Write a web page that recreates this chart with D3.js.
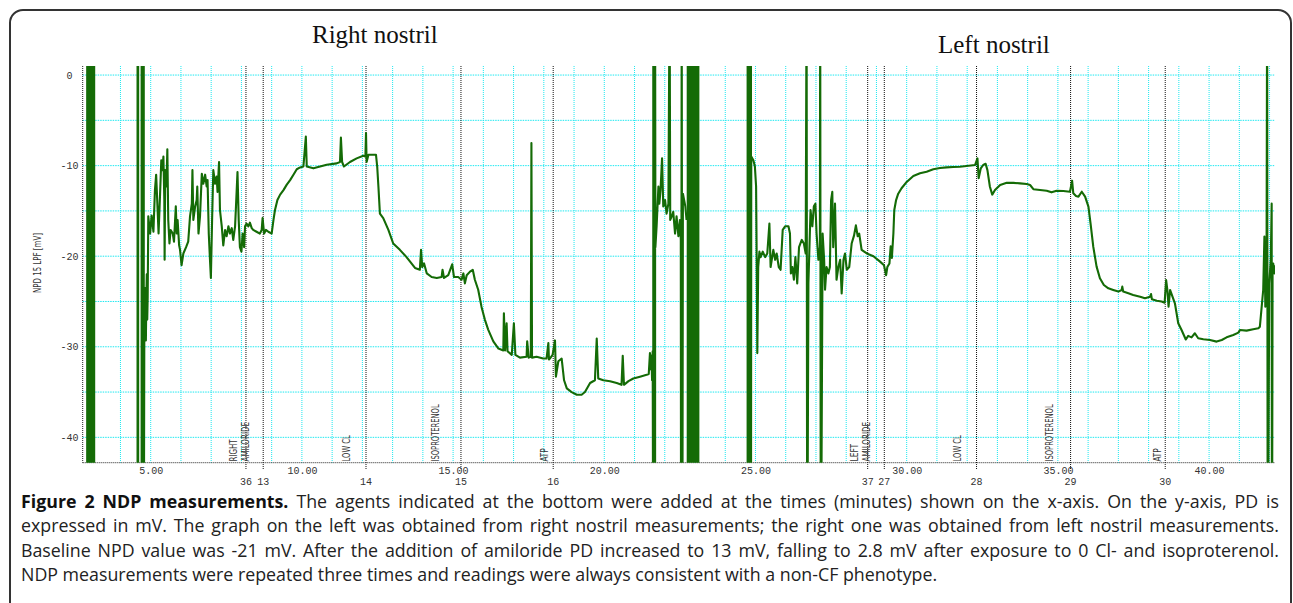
<!DOCTYPE html>
<html>
<head>
<meta charset="utf-8">
<script src="https://cdn.jsdelivr.net/npm/d3@7"></script>
<style>
  body { margin: 0; background: #fff; }
  svg { display: block; }
</style>
</head>
<body>
<div id="chart"></div>
<script>
const width = 1293
const height = 603

// NPD trace, [minutes, mV]; 10 / -60 mark readings that run off the scale
const rightTrace = [
  [2.90,10],[2.90,-60],[2.93,-60],[2.93,10],[2.96,10],[2.96,-60],[3.015,-60],[3.015,10],
  [3.07,10],[3.07,-60],[3.10,-60],[3.10,10],[3.12,10],[3.12,-60],[3.13,-60],[3.13,10],
  [4.565,10],[4.565,-60],[4.585,-60],[4.585,10],
  [4.70,10],[4.70,-60],[4.74,-60],[4.74,10],[4.77,10],[4.77,-60],
  [4.79,-26],[4.80,-23.5],[4.81,-28],[4.825,-24],[4.84,-29.3],[4.855,-25],[4.87,-22],[4.885,-27],[4.90,-24.5],
  [4.92,-15.6],[4.98,-17.5],[5.03,-15.5],[5.09,-17.3],[5.14,-12.7],[5.18,-11.0],[5.22,-14.2],[5.26,-17.5],
  [5.31,-13.1],[5.35,-9.4],[5.39,-10.5],[5.42,-9.0],[5.45,-13.8],[5.46,-20.4],[5.48,-10.5],[5.52,-12.3],
  [5.55,-8.2],[5.58,-16.0],[5.62,-18.6],[5.66,-17.1],[5.73,-17.5],[5.77,-18.4],[5.83,-14.5],[5.86,-17.5],
  [5.89,-16.0],[5.94,-18.8],[5.97,-19.3],[6.02,-21.0],[6.08,-19.7],[6.17,-19.0],[6.24,-18.4],[6.30,-15.6],
  [6.36,-14.2],[6.38,-10.5],[6.41,-16.0],[6.47,-14.5],[6.52,-13.8],[6.54,-12.3],[6.58,-17.5],[6.63,-15.6],
  [6.69,-10.9],[6.74,-12.0],[6.80,-11.0],[6.85,-12.3],[6.88,-11.6],[6.92,-17.5],[6.96,-20.4],[6.99,-22.4],
  [7.03,-16.0],[7.07,-10.5],[7.13,-12.0],[7.18,-11.2],[7.21,-12.9],[7.26,-9.6],[7.29,-14.9],[7.35,-16.7],
  [7.40,-18.8],[7.46,-17.1],[7.51,-17.8],[7.57,-16.7],[7.62,-17.5],[7.68,-16.9],[7.73,-18.2],[7.79,-16.7],
  [7.82,-14.5],[7.87,-10.7],[7.91,-16.0],[7.95,-19.0],[8.00,-19.5],[8.04,-17.5],[8.09,-19.0],[8.12,-16.7],
  [8.17,-16.4],[8.23,-16.7],[8.28,-16.3],[8.34,-16.9],[8.39,-17.1],[8.50,-17.3],[8.61,-17.5],[8.67,-17.1],
  [8.70,-15.8],[8.75,-17.5],[8.81,-17.1],[8.89,-17.3],[9.00,-17.5],[9.06,-16.0],[9.11,-14.9],[9.19,-13.8],
  [9.28,-13.2],[9.39,-12.7],[9.50,-12.1],[9.61,-11.6],[9.72,-11.0],[9.83,-10.4],[9.94,-10.2],
  [10.05,-10.1],[10.13,-6.8],[10.16,-10.1],[10.38,-10.3],[10.60,-10.1],[10.82,-9.9],[11.15,-9.75],
  [11.26,-9.6],[11.29,-6.9],[11.33,-9.6],[11.39,-10.1],[11.59,-9.6],[11.81,-9.2],[12.03,-8.9],[12.10,-9.0],
  [12.12,-6.4],[12.14,-9.6],[12.20,-8.8],[12.45,-8.8],[12.49,-10.1],[12.53,-12.3],[12.58,-15.3],[12.69,-15.8],
  [12.86,-17.1],[13.02,-18.6],[13.24,-19.3],[13.46,-20.1],[13.74,-21.3],[13.90,-21.5],[13.94,-19.3],
  [13.98,-21.2],[14.04,-20.8],[14.13,-21.9],[14.29,-22.3],[14.46,-22.4],[14.62,-22.3],[14.65,-21.5],
  [14.70,-22.4],[14.84,-22.1],[14.97,-20.9],[15.03,-22.3],[15.17,-22.3],[15.28,-22.6],[15.34,-21.9],
  [15.39,-23.0],[15.45,-22.1],[15.56,-21.7],[15.65,-21.5],[15.72,-22.6],[15.83,-23.7],[15.94,-25.6],
  [16.05,-27.0],[16.16,-28.1],[16.33,-29.4],[16.50,-30.2],[16.66,-30.4],[16.68,-26.3],[16.72,-30.4],
  [16.77,-27.4],[16.80,-30.5],[16.94,-30.9],[17.01,-27.4],[17.06,-30.9],[17.21,-31.2],[17.43,-31.1],
  [17.45,-29.4],[17.50,-31.2],[17.57,-31.1],[17.59,-7.5],[17.61,-31.2],[17.76,-31.1],[17.98,-31.3],
  [18.09,-31.3],[18.15,-29.6],[18.17,-31.4],[18.20,-31.3],[18.29,-30.9],[18.37,-29.3],[18.40,-33.3],
  [18.48,-31.6],[18.59,-31.3],[18.67,-33.7],[18.76,-34.6],[18.92,-35.0],[19.09,-35.3],[19.25,-35.3],
  [19.36,-35.0],[19.53,-34.0],[19.69,-33.7],[19.75,-29.1],[19.80,-33.5],[19.97,-33.7],[20.19,-33.8],
  [20.41,-34.0],[20.57,-34.2],[20.61,-31.0],[20.65,-34.2],[20.80,-33.8],[20.96,-33.5],[21.18,-33.3],
  [21.40,-33.1],[21.47,-33.0],[21.51,-30.7],[21.54,-32.5],[21.56,-31.0],[21.58,-33.7],[21.60,-30.5],
  [21.62,-60],[21.62,10],[21.65,10],[21.65,-60],[21.68,-60],[21.68,10],
  [21.69,-19.0],[21.73,-16.7],[21.79,-12.3],[21.82,-14.2],[21.86,-12.7],[21.91,-9.2],[21.95,-14.5],
  [22.01,-13.8],[22.06,-15.3],[22.12,-14.2],[22.16,10],[22.18,-16],[22.23,-15.6],[22.28,-15.1],
  [22.34,-17.5],[22.39,-15.6],[22.45,-17.8],[22.50,-16.0],[22.53,-18.2],[22.54,-60],[22.56,10],
  [22.58,-60],[22.60,-13.1],[22.68,-14.5],[22.72,-16.0]
]

const leftTrace = [
  [22.76,-60],[22.76,10],[22.79,10],[22.79,-60],[22.82,-60],[22.82,10],[22.85,10],[22.85,-60],
  [22.88,-60],[22.88,10],[22.91,10],[22.91,-60],[22.94,-60],[22.94,10],[22.97,10],[22.97,-60],
  [23.00,-60],[23.00,10],[23.03,10],[23.03,-60],[23.06,-60],[23.06,10],[23.09,10],[23.09,-60],
  [23.11,-60],[23.11,10],
  [24.74,10],[24.74,-60],[24.77,-60],[24.77,10],[24.80,10],[24.80,-60],[24.83,-60],[24.83,10],
  [24.85,10],[24.85,-60],
  [24.86,-9.0],[24.93,-9.4],[24.98,-10.1],[25.02,-12.3],[25.04,-20.4],[25.06,-30.7],[25.09,-21.2],
  [25.13,-19.5],[25.17,-20.1],[25.24,-19.5],[25.32,-20.1],[25.39,-19.7],[25.46,-16.4],[25.50,-21.2],
  [25.59,-19.3],[25.65,-20.4],[25.70,-19.7],[25.77,-21.2],[25.83,-21.5],[25.90,-17.1],[25.98,-16.7],
  [26.09,-16.7],[26.14,-17.5],[26.17,-21.9],[26.22,-21.2],[26.27,-22.6],[26.32,-20.1],[26.38,-23.0],
  [26.44,-19.0],[26.53,-18.2],[26.60,-18.6],[26.66,-19.7],[26.69,10],[26.71,-60],
  [26.75,-23.0],[26.82,-14.9],[26.88,-16.7],[26.93,-14.5],[26.98,-14.2],[27.02,-17.5],[27.08,-20.4],
  [27.13,-19.0],[27.14,10],[27.16,-60],
  [27.22,-17.5],[27.27,-20.4],[27.30,-23.7],[27.35,-21.2],[27.41,-21.9],[27.46,-21.2],[27.50,-13.8],
  [27.54,-12.9],[27.57,-19.0],[27.63,-14.2],[27.68,-22.6],[27.74,-21.2],[27.80,-20.4],[27.85,-24.1],
  [27.91,-20.4],[27.96,-19.7],[28.02,-21.5],[28.10,-21.2],[28.18,-18.6],[28.26,-17.7],[28.32,-16.6],
  [28.38,-17.8],[28.43,-17.5],[28.51,-19.3],[28.68,-19.7],[28.90,-20.0],[29.12,-20.6],[29.25,-21.0],
  [29.32,-22.1],[29.36,-21.2],[29.43,-20.8],[29.47,-18.9],[29.51,-20.2],[29.56,-17.5],[29.59,-14.9],
  [29.65,-13.8],[29.72,-13.1],[29.83,-12.5],[30.00,-11.8],[30.22,-11.15],[30.44,-10.85],[30.66,-10.67],
  [30.88,-10.41],[31.10,-10.26],[31.32,-10.19],[31.54,-10.15],[31.76,-10.12],[31.98,-10.04],
  [32.26,-9.93],[32.34,-9.2],[32.38,-11.4],[32.45,-10.3],[32.53,-9.93],[32.61,-9.8],[32.67,-10.5],
  [32.75,-12.3],[32.83,-13.2],[32.92,-12.7],[33.09,-12.14],[33.31,-11.9],[33.53,-11.9],[33.75,-11.96],
  [33.97,-12.03],[34.08,-12.14],[34.19,-12.6],[34.41,-12.69],[34.63,-12.77],[34.79,-12.95],
  [34.96,-12.77],[35.18,-12.8],[35.40,-12.88],[35.47,-11.66],[35.51,-13.06],[35.60,-13.36],
  [35.68,-13.43],[35.79,-12.88],[35.90,-13.43],[36.01,-14.53],[36.08,-16.37],[36.17,-18.95],
  [36.28,-21.15],[36.39,-22.44],[36.52,-23.18],[36.67,-23.55],[36.83,-23.73],[37.00,-23.91],
  [37.11,-23.73],[37.13,-23.36],[37.16,-23.91],[37.33,-24.1],[37.49,-24.28],[37.72,-24.47],
  [37.88,-24.65],[38.05,-24.47],[38.08,-24.17],[38.11,-24.76],[38.27,-24.91],[38.43,-25.0],
  [38.53,-25.13],[38.58,-22.63],[38.62,-23.73],[38.66,-25.57],[38.71,-23.73],[38.87,-25.2],
  [38.98,-27.4],[39.09,-28.15],[39.23,-29.2],[39.31,-28.8],[39.42,-28.96],[39.53,-28.51],
  [39.64,-29.06],[39.81,-29.17],[40.03,-29.25],[40.25,-29.43],[40.42,-29.25],[40.58,-28.96],
  [40.80,-28.7],[40.97,-28.44],[41.02,-28.15],[41.24,-28.22],[41.46,-28.07],[41.63,-27.96],
  [41.68,-27.78],[41.74,-25.57],[41.79,-23.73],[41.83,-17.84],[41.86,-25.57],[41.90,-21.89],
  [41.92,10],[41.94,-60],[41.99,-23.0],[42.04,-20.4],[42.07,-14.2],[42.08,-60],[42.10,-21.15],
  [42.12,-20.8],[42.16,-21.9],[42.19,-21.0]
]

const yTicks = [0, -10, -20, -30, -40]
const timeTicks = [5, 10, 15, 20, 25, 30, 35, 40]

// agent additions: marker times and the running numbers printed under them
const eventTimes = [8.15, 8.72, 12.12, 15.26, 18.31, 28.71, 29.26, 32.31, 35.42, 38.55]
const eventCodes = ["36", "13", "14", "15", "16", "37", "27", "28", "29", "30"]
const agentNames = ["RIGHT\nAMILORIDE", "LOW CL", "ISOPROTERENOL", "ATP",
                    "LEFT\nAMILORIDE", "LOW CL", "ISOPROTERENOL", "ATP"]
const agentTimes = [8.15, 11.47, 14.43, 18.02, 28.68, 31.68, 34.71, 38.29]

const captionLead = "Figure 2 NDP measurements."
const captionLines = [
  " The agents indicated at the bottom were added at the times (minutes) shown on the x-axis. On the y-axis, PD is",
  "expressed in mV. The graph on the left was obtained from right nostril measurements; the right one was obtained from left nostril measurements.",
  "Baseline NPD value was -21 mV. After the addition of amiloride PD increased to 13 mV, falling to 2.8 mV after exposure to 0 Cl- and isoproterenol.",
  "NDP measurements were repeated three times and readings were always consistent with a non-CF phenotype."
]

const plot = { left: 82.7, right: 1275, top: 66, bottom: 462.7 }
const green = "#146b06"
const mono = "'Liberation Mono', 'DejaVu Sans Mono', monospace"
const narrow = "'Liberation Sans Narrow', 'DejaVu Sans Condensed', sans-serif"

const x = d3.scaleLinear().domain([2.751, 42.18]).range([plot.left, plot.right])
const y = d3.scaleLinear().domain([1.0, -42.8]).range([plot.top, plot.bottom])

const svg = d3.select("#chart")
  .append("svg")
  .attr("width", width)
  .attr("height", height)
  .attr("viewBox", [0, 0, width, height])

// figure frame
svg.append("rect")
  .attr("x", 10).attr("y", 10)
  .attr("width", 1281).attr("height", 606)
  .attr("rx", 13)
  .attr("fill", "none")
  .attr("stroke", "#333")
  .attr("stroke-width", 2)

svg.append("defs").append("clipPath").attr("id", "plot-clip")
  .append("rect")
  .attr("x", plot.left).attr("y", plot.top)
  .attr("width", plot.right - plot.left).attr("height", plot.bottom - plot.top)

// cyan grid
svg.append("g")
  .selectAll("line")
  .data(d3.range(3, 43))
  .join("line")
  .attr("x1", d => x(d)).attr("x2", d => x(d))
  .attr("y1", plot.top).attr("y2", plot.bottom)
  .attr("stroke", "#1ee8f0")
  .attr("stroke-dasharray", "1 1")

svg.append("g")
  .selectAll("line")
  .data(d3.range(0, -41, -5))
  .join("line")
  .attr("x1", plot.left).attr("x2", plot.right)
  .attr("y1", d => y(d)).attr("y2", d => y(d))
  .attr("stroke", "#1ee8f0")
  .attr("stroke-dasharray", "1.5 1")

// left edge and baseline
svg.append("line")
  .attr("x1", plot.left).attr("x2", plot.left)
  .attr("y1", plot.top).attr("y2", plot.bottom)
  .attr("stroke", "#222").attr("stroke-dasharray", "1 1")
svg.append("line")
  .attr("x1", plot.left).attr("x2", plot.right)
  .attr("y1", plot.bottom).attr("y2", plot.bottom)
  .attr("stroke", "#222").attr("stroke-dasharray", "1 1")

// agent markers
svg.append("g")
  .selectAll("line")
  .data(eventTimes)
  .join("line")
  .attr("x1", d => x(d)).attr("x2", d => x(d))
  .attr("y1", plot.top).attr("y2", 470)
  .attr("stroke", "#111")
  .attr("stroke-dasharray", "1 1")

// trace
const line = d3.line().x(d => x(d[0])).y(d => y(d[1]))
svg.append("g")
  .attr("clip-path", "url(#plot-clip)")
  .selectAll("path")
  .data([rightTrace, leftTrace])
  .join("path")
  .attr("d", line)
  .attr("fill", "none")
  .attr("stroke", green)
  .attr("stroke-width", 2.1)
  .attr("stroke-linejoin", "round")

// y labels
svg.append("g")
  .selectAll("text")
  .data(yTicks)
  .join("text")
  .attr("x", 69.5)
  .attr("y", d => y(d))
  .attr("dy", "0.35em")
  .attr("text-anchor", "middle")
  .attr("font-family", mono)
  .attr("font-size", 10)
  .attr("fill", "#333")
  .text(d => d)

svg.append("text")
  .attr("transform", "translate(37,263) rotate(-90)")
  .attr("dy", "0.35em")
  .attr("text-anchor", "middle")
  .attr("font-family", narrow)
  .attr("font-size", 10)
  .attr("textLength", 60)
  .attr("lengthAdjust", "spacingAndGlyphs")
  .attr("fill", "#333")
  .text("NPD 15 LPF [mV]")

// time axis
const xAxis = svg.append("g")
  .attr("transform", `translate(0,${plot.bottom})`)
  .call(d3.axisBottom(x).tickValues(timeTicks).tickFormat(d3.format(".2f")).tickSize(0).tickPadding(4))
xAxis.select(".domain").remove()
xAxis.selectAll("text")
  .attr("font-family", mono)
  .attr("font-size", 10)
  .attr("fill", "#333")

svg.append("g")
  .selectAll("text")
  .data(eventTimes)
  .join("text")
  .attr("x", d => x(d))
  .attr("y", 485)
  .attr("text-anchor", "middle")
  .attr("font-family", mono)
  .attr("font-size", 10)
  .attr("fill", "#333")
  .text((d, i) => eventCodes[i])

// rotated agent names
const agents = svg.append("g")
agentNames.forEach((name, i) => {
  const rows = name.split("\n")
  rows.forEach((row, j) => {
    agents.append("text")
      .attr("transform", `translate(${x(agentTimes[i]) - (rows.length - 1 - j) * 12},461.5) rotate(-90)`)
      .attr("dy", "0.35em")
      .attr("font-family", narrow)
      .attr("font-size", 10)
      .attr("textLength", row.length * 4.4)
      .attr("lengthAdjust", "spacingAndGlyphs")
      .attr("fill", "#333")
      .text(row)
  })
})

// panel titles
svg.append("text")
  .attr("x", 312).attr("y", 43)
  .attr("font-family", "'Liberation Serif', 'Times New Roman', serif")
  .attr("font-size", 25)
  .attr("fill", "#111")
  .text("Right nostril")
svg.append("text")
  .attr("x", 938).attr("y", 53)
  .attr("font-family", "'Liberation Serif', 'Times New Roman', serif")
  .attr("font-size", 25)
  .attr("fill", "#111")
  .text("Left nostril")

// caption, justified except the last line
const caption = svg.append("g")
  .attr("font-family", "'Open Sans', 'Noto Sans', sans-serif")
  .attr("font-size", 17.8)
  .attr("fill", "#222")
captionLines.forEach((txt, i) => {
  const t = caption.append("text").attr("x", 21).attr("y", 508 + i * 24.4)
  if (i === 0) {
    t.append("tspan").attr("font-weight", "bold").attr("fill", "#111").text(captionLead)
  }
  t.append("tspan").text(txt)
  if (i < captionLines.length - 1) {
    const full = (i === 0 ? captionLead : "") + txt
    const spaces = full.split(" ").length - 1
    const extra = (1258 - t.node().getComputedTextLength()) / spaces
    if (extra >= 0) {
      t.attr("word-spacing", extra)
    } else {
      t.attr("textLength", 1258).attr("lengthAdjust", "spacingAndGlyphs")
    }
  }
})

const chart = svg.node()
</script>
</body>
</html>
